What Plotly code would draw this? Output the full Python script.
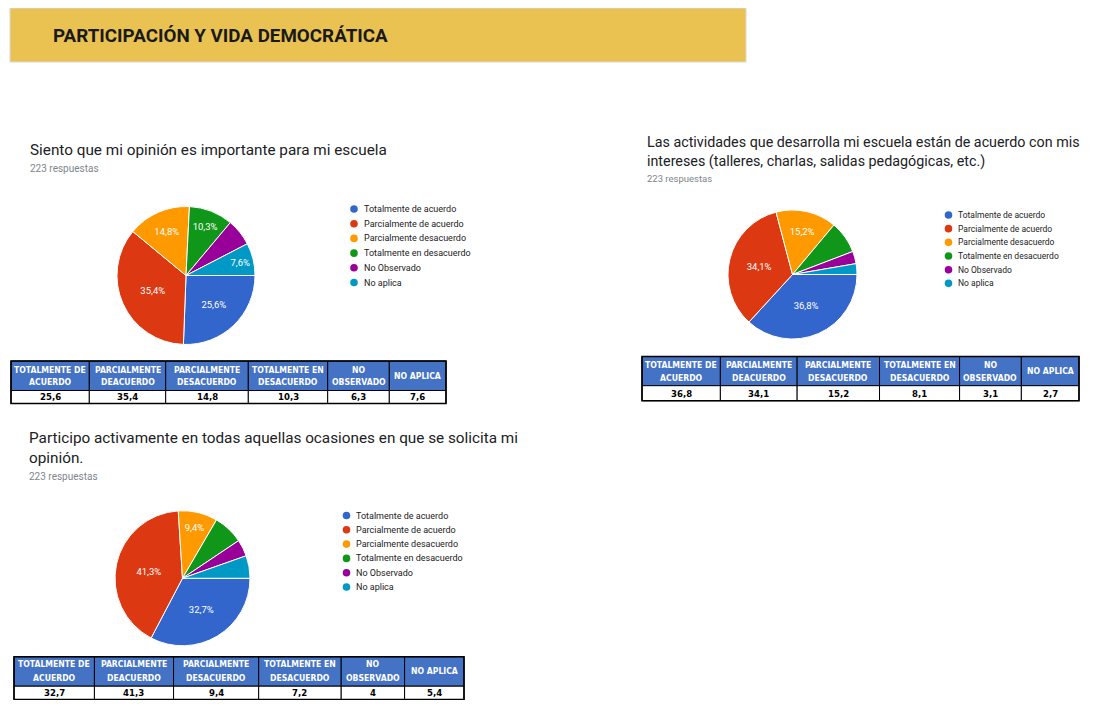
import plotly.graph_objects as go

# ---------------- data ----------------
page_title = "PARTICIPACIÓN Y VIDA DEMOCRÁTICA"
responses = "223 respuestas"
categories = ["Totalmente de acuerdo", "Parcialmente de acuerdo", "Parcialmente desacuerdo",
              "Totalmente en desacuerdo", "No Observado", "No aplica"]
table_headers = ["TOTALMENTE DE<br>ACUERDO", "PARCIALMENTE<br>DEACUERDO", "PARCIALMENTE<br>DESACUERDO",
                 "TOTALMENTE EN<br>DESACUERDO", "NO<br>OBSERVADO", "NO APLICA"]

q1_title = "Siento que mi opinión es importante para mi escuela"
q1_values = [25.6, 35.4, 14.8, 10.3, 6.3, 7.6]

q2_title = "Las actividades que desarrolla mi escuela están de acuerdo con mis<br>intereses (talleres, charlas, salidas pedagógicas, etc.)"
q2_values = [36.8, 34.1, 15.2, 8.1, 3.1, 2.7]

q3_title = "Participo activamente en todas aquellas ocasiones en que se solicita mi<br>opinión."
q3_values = [32.7, 41.3, 9.4, 7.2, 4, 5.4]

# which slice labels are visible in the original
q1_shown = [True, True, True, True, False, True]
q2_shown = [True, True, True, False, False, False]
q3_shown = [True, True, True, False, False, False]

colors = ["#3366CC", "#DC3912", "#FF9900", "#109618", "#990099", "#0099C6"]

# ---------------- layout helpers ----------------
W, H = 1093, 708
PAD = 8                      # default page margin of the browser body
FW, FH = W - 2 * PAD, H - 2 * PAD


def fx(x):
    return (x - PAD) / FW


def fy(y):
    return 1 - (y - PAD) / FH


def pct(v):
    return f"{v:.1f}".replace(".", ",") + "%"


def num(v):
    return str(v).replace(".", ",")


TABLE_FONT = "DejaVu Sans Condensed, Liberation Sans, Arial"

panels = [
    dict(title=q1_title, values=q1_values, shown=q1_shown,
         tx=27.5, ty=149.5, rty=168, tsize=15.3, rsize=10,
         pie=(117, 255, 205, 346),
         leg_x=354, leg_y0=209, leg_dy=14.7, leg_size=9,
         table=(11, 446, 361, 390.5, 403.5), hd=5.9,
         colw=[78.3, 76.4, 82.6, 79.4, 61.6, 56.7]),
    dict(title=q2_title, values=q2_values, shown=q2_shown,
         tx=644.5, ty=151.5, rty=178, tsize=14.3, rsize=9.5,
         pie=(728, 857, 210, 339),
         leg_x=948.5, leg_y0=215, leg_dy=13.67, leg_size=8.5,
         table=(642, 1079, 356.5, 385.7, 400.7), hd=6.6,
         colw=[78.3, 76.7, 82.3, 80, 61.7, 57.6]),
    dict(title=q3_title, values=q3_values, shown=q3_shown,
         tx=27, ty=448, rty=476, tsize=15.3, rsize=10,
         pie=(115, 250, 510.5, 646),
         leg_x=346.5, leg_y0=515.5, leg_dy=14.3, leg_size=9,
         table=(14, 464, 656.7, 686.2, 699.6), hd=7.0,
         colw=[80.3, 79, 85, 82.4, 63.3, 59.3]),
]

fig = go.Figure()
shapes = []
annotations = []

# banner
shapes.append(dict(type="rect", xref="paper", yref="paper",
                   x0=fx(10), x1=fx(746), y0=fy(62), y1=fy(8),
                   fillcolor="#E9C251", line=dict(color="#D9D9D9", width=1), layer="below"))
annotations.append(dict(xref="paper", yref="paper", x=fx(51), y=fy(35.5),
                        xanchor="left", yanchor="middle", showarrow=False,
                        text="<b>" + page_title + "</b>",
                        font=dict(family="Roboto", size=18.8, color="#1a1a1a")))

for p in panels:
    x0, x1, y0, y1 = p["pie"]
    fig.add_trace(go.Pie(
        labels=categories, values=p["values"], sort=False,
        direction="clockwise", rotation=90,
        marker=dict(colors=colors, line=dict(color="white", width=1)),
        text=[pct(v) if s else "" for v, s in zip(p["values"], p["shown"])],
        textinfo="text", textposition="inside", insidetextorientation="horizontal",
        insidetextfont=dict(color="white", size=9.5, family="Roboto"),
        showlegend=False, hoverinfo="label+percent",
        domain=dict(x=[fx(x0), fx(x1)], y=[fy(y1), fy(y0)]),
    ))

    # titles
    annotations.append(dict(xref="paper", yref="paper", x=fx(p["tx"]), y=fy(p["ty"]),
                            xanchor="left", yanchor="middle", align="left", showarrow=False,
                            text=p["title"],
                            font=dict(family="Roboto", size=p["tsize"], color="#202124")))
    annotations.append(dict(xref="paper", yref="paper", x=fx(p["tx"]), y=fy(p["rty"]),
                            xanchor="left", yanchor="middle", showarrow=False,
                            text=responses,
                            font=dict(family="Roboto", size=p["rsize"], color="#80868b")))

    # legend (circle markers)
    r = 3.8
    for i, cat in enumerate(categories):
        cy = p["leg_y0"] + i * p["leg_dy"]
        cx = p["leg_x"]
        shapes.append(dict(type="circle", xref="paper", yref="paper",
                           x0=fx(cx - r), x1=fx(cx + r), y0=fy(cy + r), y1=fy(cy - r),
                           fillcolor=colors[i], line=dict(width=0)))
        annotations.append(dict(xref="paper", yref="paper", x=fx(cx + 7.5), y=fy(cy),
                                xanchor="left", yanchor="middle", showarrow=False,
                                text=cat,
                                font=dict(family="Roboto", size=p["leg_size"], color="#222222")))

    # table: header row + value row
    tx0, tx1, ytop, ymid, ybot = p["table"]
    total = sum(p["colw"])
    edges = [tx0]
    for w in p["colw"]:
        edges.append(edges[-1] + w * (tx1 - tx0) / total)
    hc = (ytop + ymid) / 2
    for i, (h, v) in enumerate(zip(table_headers, p["values"])):
        a, b = edges[i], edges[i + 1]
        cx = (a + b) / 2
        shapes.append(dict(type="rect", xref="paper", yref="paper",
                           x0=fx(a), x1=fx(b), y0=fy(ymid), y1=fy(ytop),
                           fillcolor="#4472C4", line=dict(color="black", width=1)))
        shapes.append(dict(type="rect", xref="paper", yref="paper",
                           x0=fx(a), x1=fx(b), y0=fy(ybot), y1=fy(ymid),
                           fillcolor="white", line=dict(color="black", width=1)))
        lines = h.split("<br>")
        n = len(lines)
        for k, line in enumerate(lines):
            ly = hc + (k - (n - 1) / 2) * 2 * p["hd"]
            annotations.append(dict(xref="paper", yref="paper", x=fx(cx), y=fy(ly),
                                    xanchor="center", yanchor="middle", showarrow=False,
                                    text="<b>" + line + "</b>",
                                    font=dict(family=TABLE_FONT, size=8.6, color="white")))
        annotations.append(dict(xref="paper", yref="paper", x=fx(cx), y=fy((ymid + ybot) / 2),
                                xanchor="center", yanchor="middle", showarrow=False,
                                text="<b>" + num(v) + "</b>",
                                font=dict(family=TABLE_FONT, size=9.5, color="black")))
    shapes.append(dict(type="rect", xref="paper", yref="paper",
                       x0=fx(tx0), x1=fx(tx1), y0=fy(ybot), y1=fy(ytop),
                       fillcolor="rgba(0,0,0,0)", line=dict(color="black", width=1.6)))

fig.update_layout(width=FW, height=FH, margin=dict(l=0, r=0, t=0, b=0),
                  paper_bgcolor="white", plot_bgcolor="white",
                  shapes=shapes, annotations=annotations)

fig.write_html("out.html")
